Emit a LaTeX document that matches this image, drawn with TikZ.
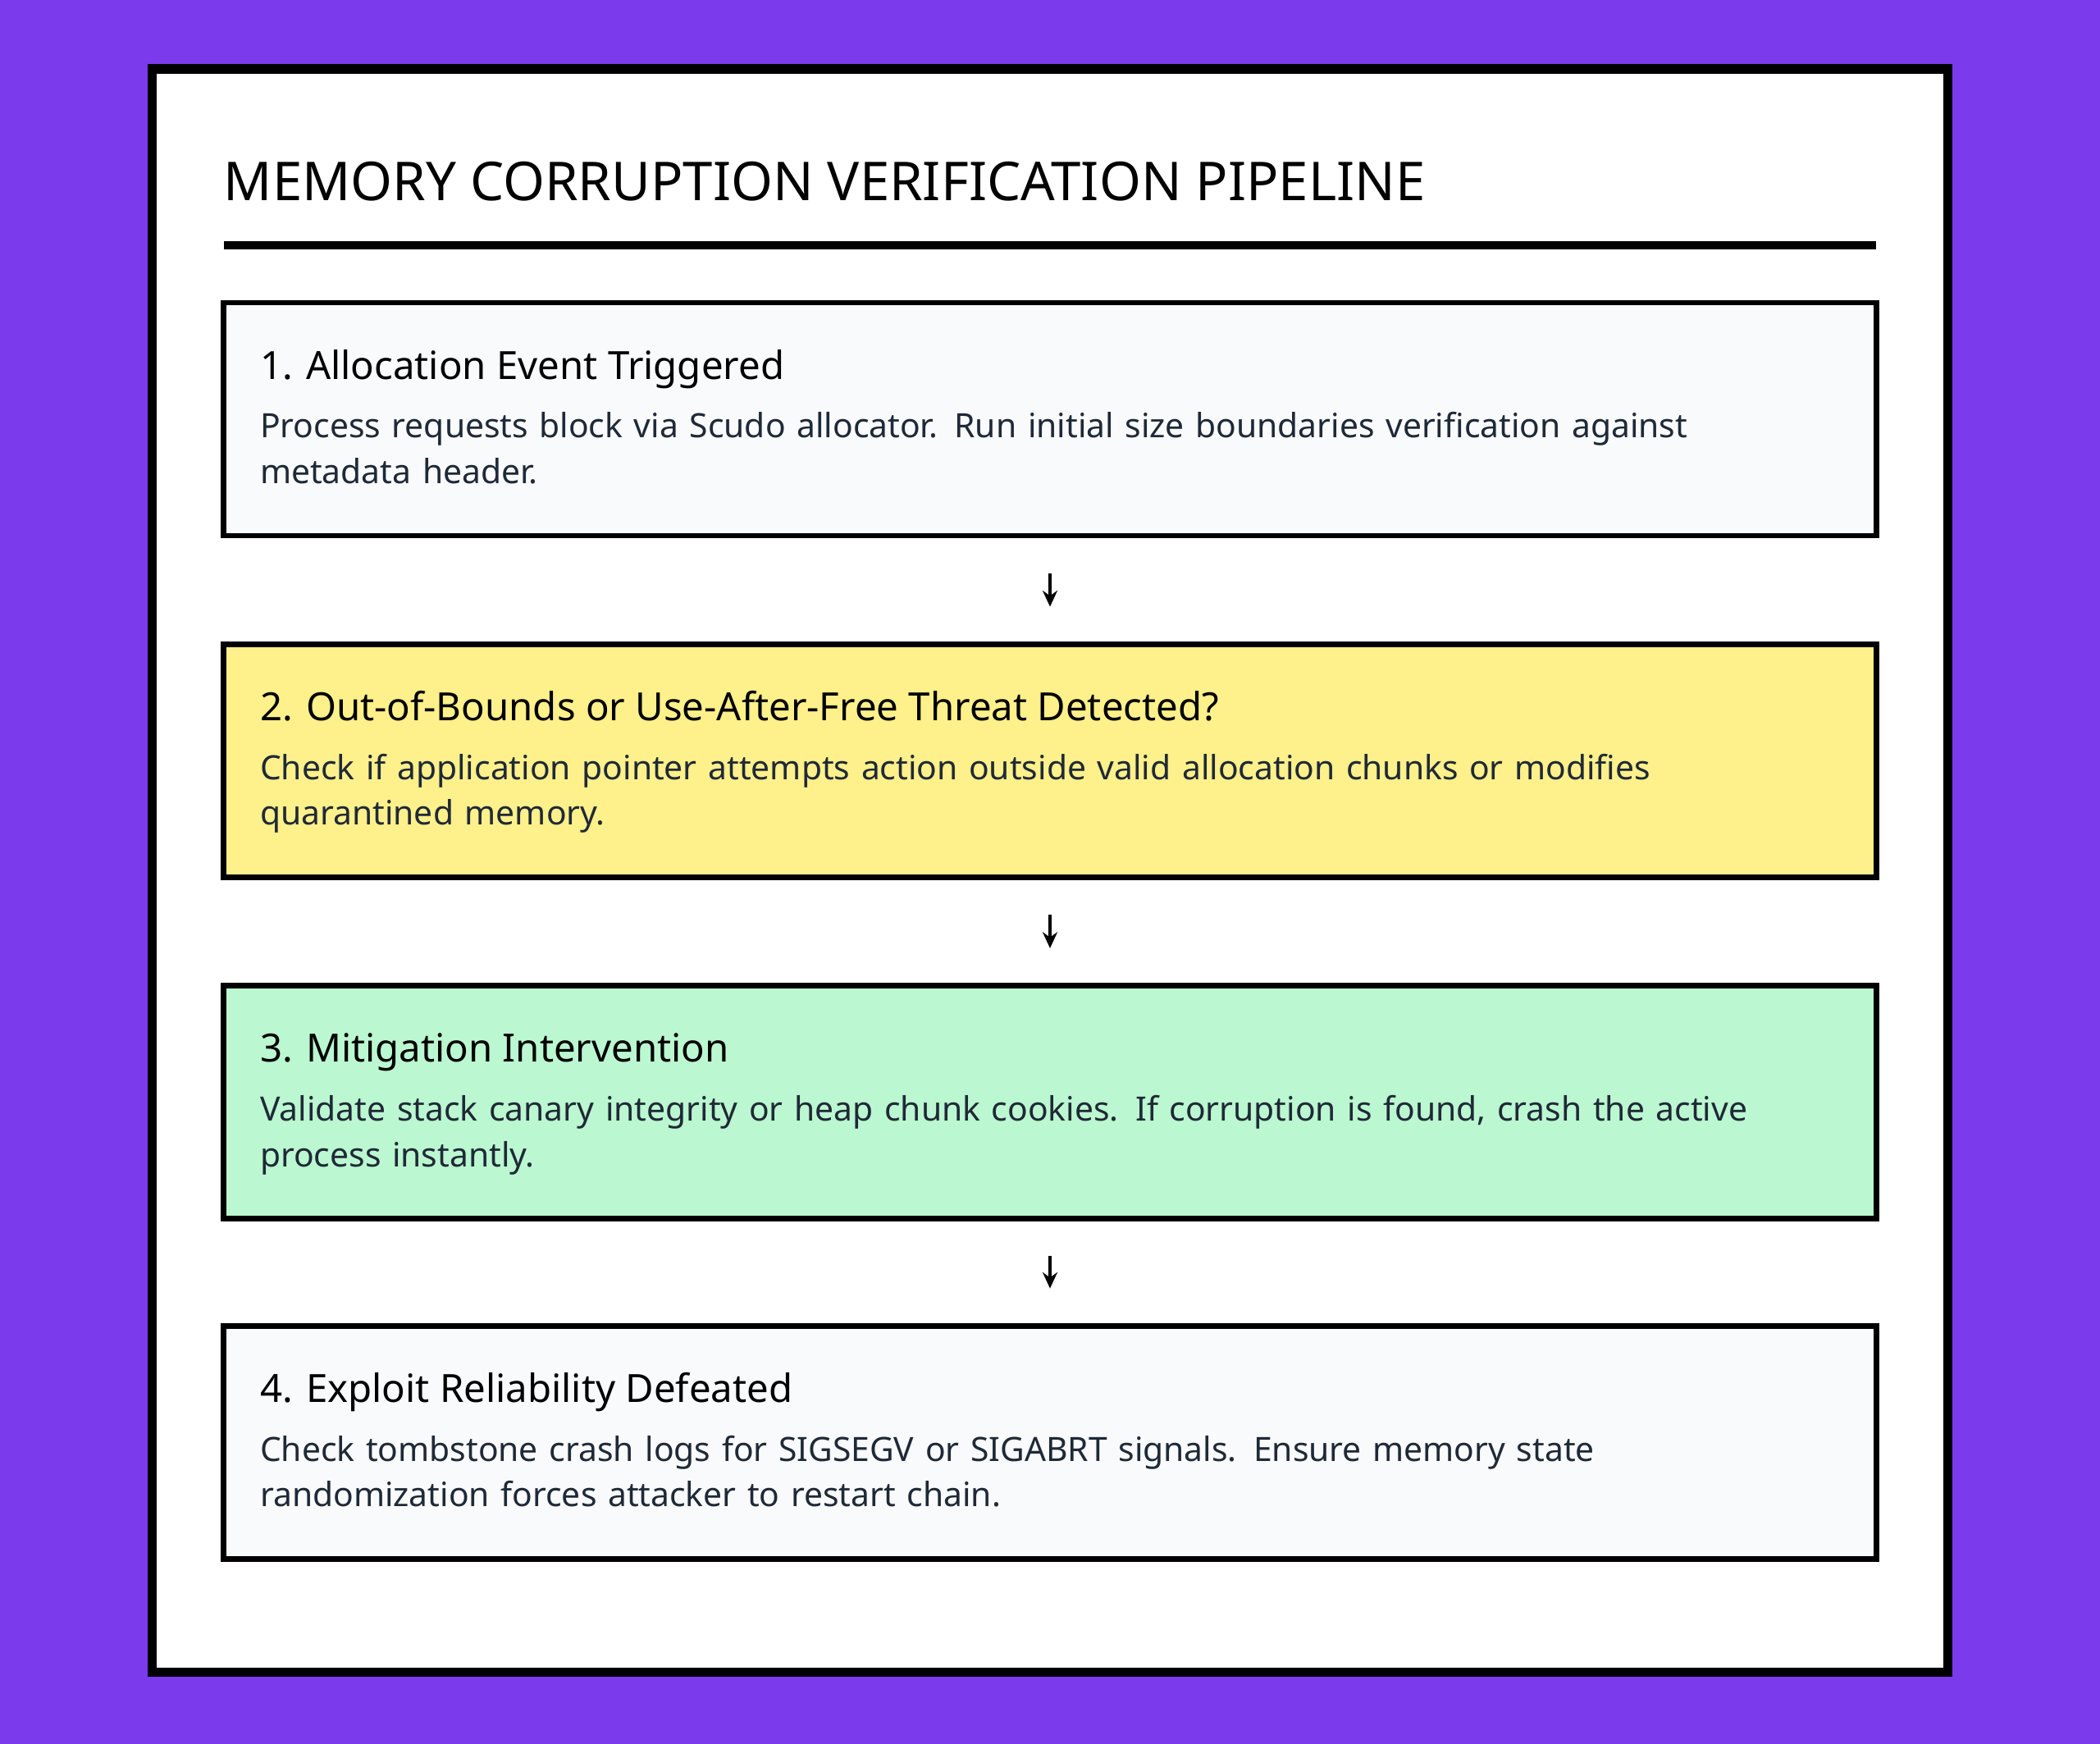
\documentclass[tikz,border=0pt]{standalone}
\usepackage{fontspec}
\setmainfont{Noto Sans}
\usetikzlibrary{positioning,arrows.meta}
\definecolor{bgpurple}{HTML}{7C3AED}
\definecolor{boxgray}{HTML}{F8FAFC}
\definecolor{boxyellow}{HTML}{FEF08A}
\definecolor{boxgreen}{HTML}{BBF7D0}
\definecolor{bodytext}{HTML}{1F2937}
\tikzset{
    stepbox/.style={rectangle, draw=black, line width=4pt, minimum width=1234pt, minimum height=174pt, inner sep=0pt},
    stephead/.style={anchor=base west, inner sep=0pt, font=\fontsize{29}{34}\selectfont\bfseries},
    stepbody/.style={anchor=base west, inner sep=0pt, text width=1176pt, align=left, text=bodytext, font=\fontsize{25}{34}\selectfont},
    steparrow/.style={-{Stealth[length=12pt,width=11pt]}, line width=3pt, shorten >=26pt, shorten <=26pt}
}
\begin{document}
\begin{tikzpicture}[x=1pt,y=-1pt]
    \fill[bgpurple] (0,0) rectangle (1568,1302);
    \useasboundingbox (0,0) rectangle (1568,1302);
    \draw[line width=7pt, fill=white] (113.5,51.5) rectangle (1454.5,1248.5);
    \node[anchor=base west, inner sep=0pt, font=\fontsize{40}{46}\selectfont\bfseries] (title) at (167,150) {MEMORY CORRUPTION VERIFICATION PIPELINE};
    \fill[black] (167,180) rectangle (1401,186);
    % steps
    \node[stepbox, fill=boxgray] (alloc) at (784,313) {};
    \node[stephead] (allochead) at ([xshift=29pt,yshift=-59pt]alloc.north west) {1. Allocation Event Triggered};
    \node[stepbody] at ([yshift=-44pt]allochead.base west) {Process requests block via Scudo allocator. Run initial size boundaries verification against\\metadata header.};
    \node[stepbox, fill=boxyellow] (threat) at (784,568) {};
    \node[stephead] (threathead) at ([xshift=29pt,yshift=-59pt]threat.north west) {2. Out-of-Bounds or Use-After-Free Threat Detected?};
    \node[stepbody] at ([yshift=-44pt]threathead.base west) {Check if application pointer attempts action outside valid allocation chunks or modifies\\quarantined memory.};
    \node[stepbox, fill=boxgreen] (mitig) at (784,823) {};
    \node[stephead] (mitighead) at ([xshift=29pt,yshift=-59pt]mitig.north west) {3. Mitigation Intervention};
    \node[stepbody] at ([yshift=-44pt]mitighead.base west) {Validate stack canary integrity or heap chunk cookies. If corruption is found, crash the active\\process instantly.};
    \node[stepbox, fill=boxgray] (exploit) at (784,1077) {};
    \node[stephead] (exploithead) at ([xshift=29pt,yshift=-59pt]exploit.north west) {4. Exploit Reliability Defeated};
    \node[stepbody] at ([yshift=-44pt]exploithead.base west) {Check tombstone crash logs for SIGSEGV or SIGABRT signals. Ensure memory state\\randomization forces attacker to restart chain.};
    % arrows
    \draw[steparrow] (alloc) -- (threat);
    \draw[steparrow] (threat) -- (mitig);
    \draw[steparrow] (mitig) -- (exploit);
\end{tikzpicture}
\end{document}
